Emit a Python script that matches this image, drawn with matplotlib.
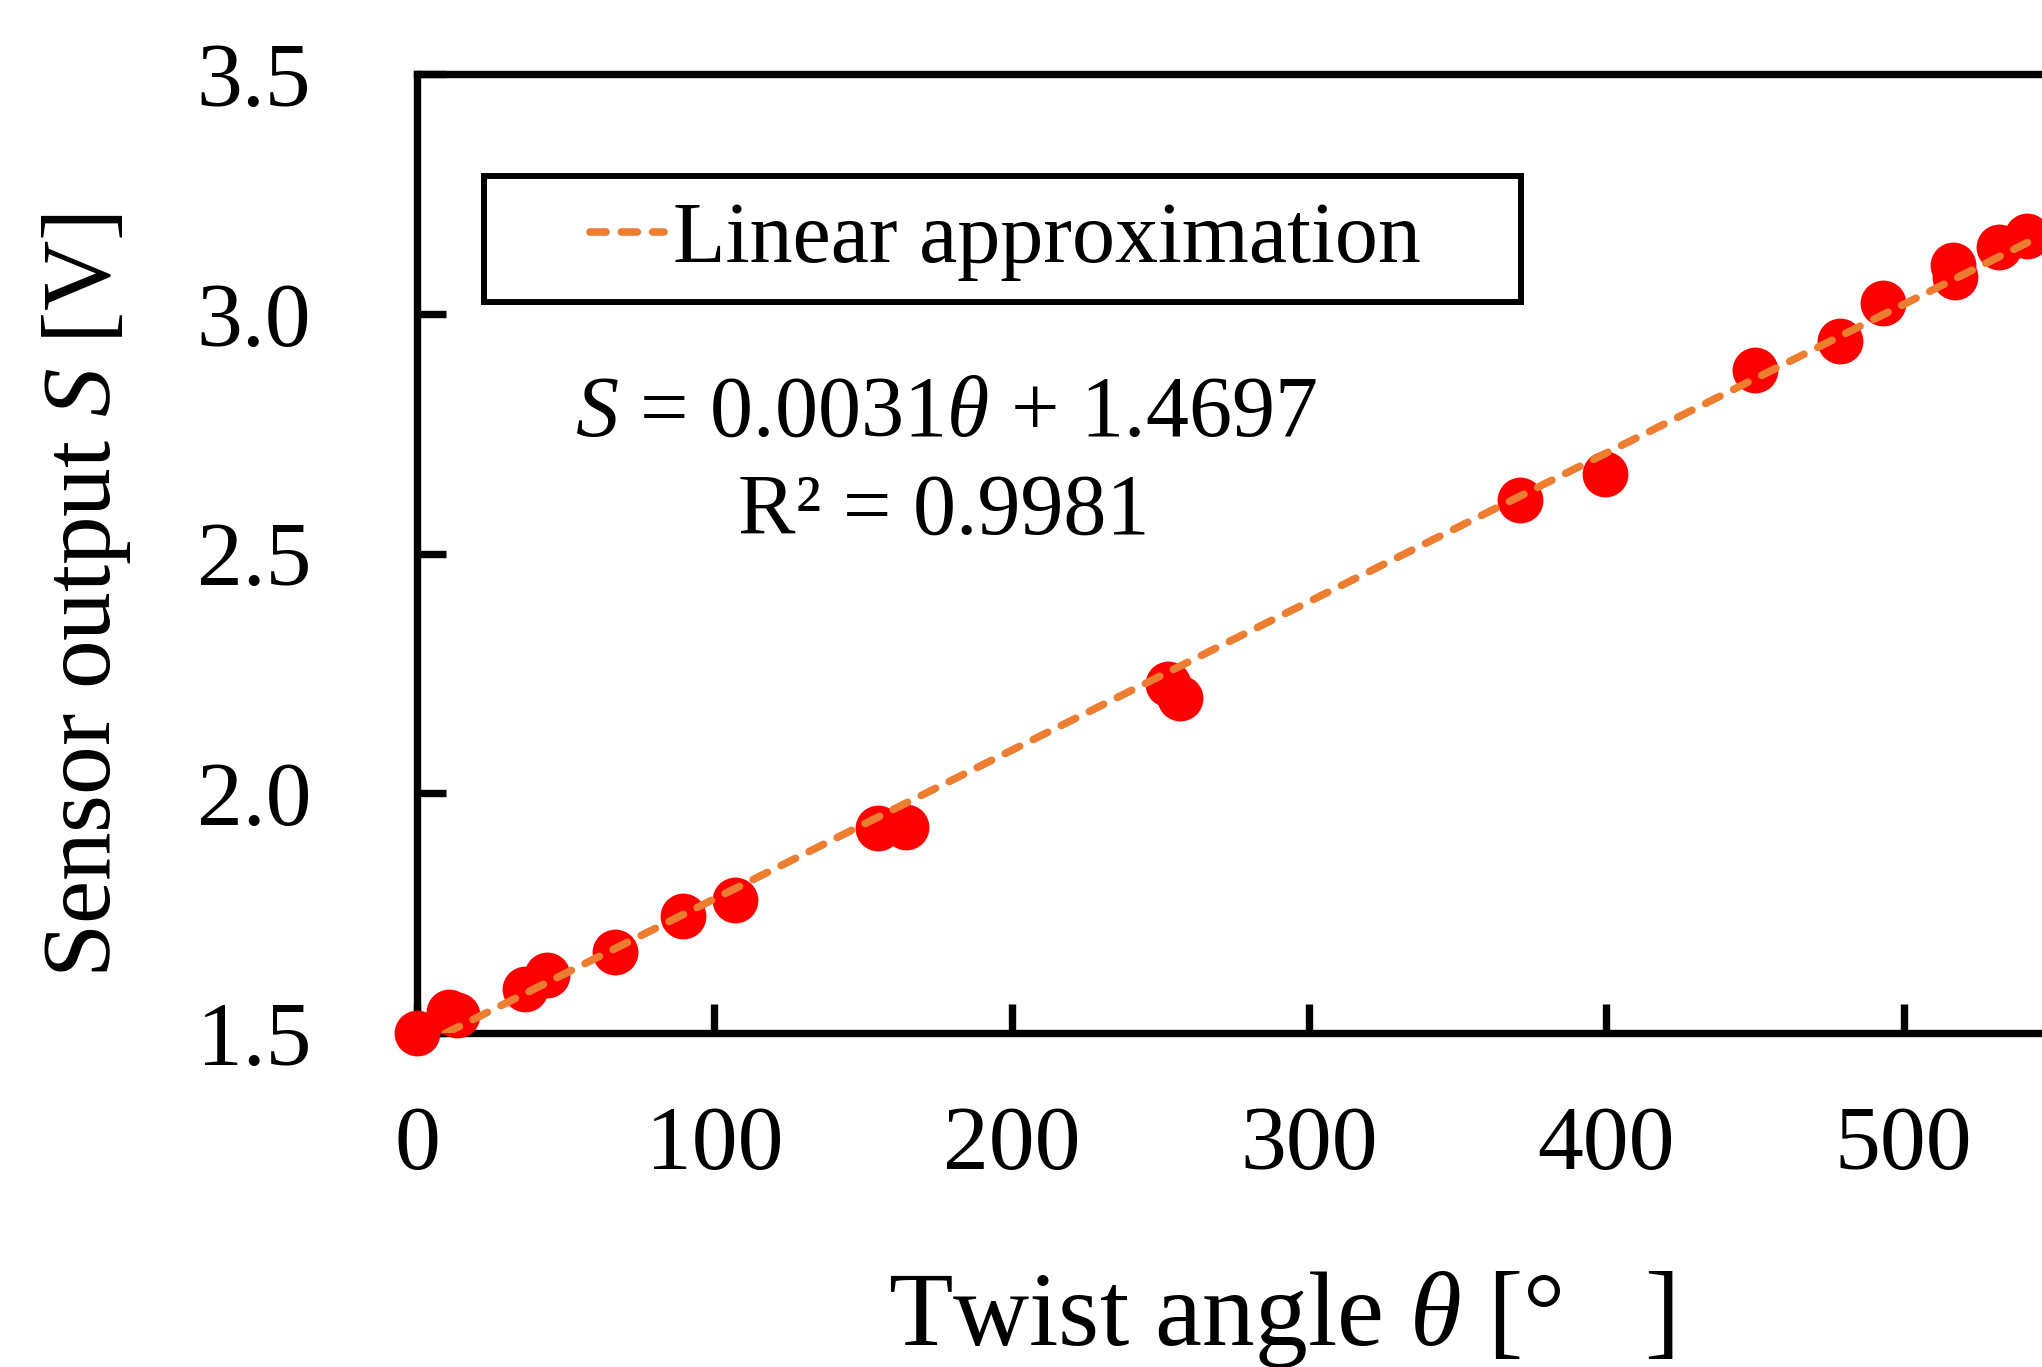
import matplotlib
matplotlib.use("Agg")
import matplotlib.pyplot as plt
from matplotlib.patches import Rectangle

# measured points: twist angle [deg] vs sensor output [V]
theta = [0, 10.9, 13.6, 36.3, 43.8, 66.5, 89.3, 106.8, 155.0, 164.6,
         252.6, 256.6, 370.8, 399.7, 450.1, 478.5, 493.0, 516.6, 517.1,
         532.0, 541.6]
output = [1.500, 1.543, 1.538, 1.592, 1.622, 1.668, 1.745, 1.777, 1.927, 1.929,
          2.228, 2.198, 2.611, 2.666, 2.883, 2.943, 3.022, 3.101, 3.076,
          3.139, 3.163]

# linear approximation (from the chart annotation)
slope = 0.0031
intercept = 1.4697
r2 = 0.9981

x_ticks = [0, 100, 200, 300, 400, 500]
y_ticks = [1.5, 2.0, 2.5, 3.0, 3.5]

plt.rcParams['font.family'] = 'Liberation Serif'
plt.rcParams['mathtext.fontset'] = 'custom'
plt.rcParams['mathtext.rm'] = 'Liberation Serif'
plt.rcParams['mathtext.it'] = 'Liberation Serif:italic'

fig = plt.figure(figsize=(20.42, 13.67), dpi=100)
ax = fig.add_axes([0.2042, 0.2443, 0.8737, 0.7015])

ax.plot(theta, output, 'o', color='#FF0000', ms=33, mew=0, clip_on=False, zorder=3)

fit_x = [0, max(theta)]
fit_y = [slope * v + intercept for v in fit_x]
line, = ax.plot(fit_x, fit_y, color='#ED7D31', lw=5.5, linestyle=(0, (2.1, 2.0)),
                dash_capstyle='round', zorder=4, label='Linear approximation')

ax.set_xlim(0, 600)
ax.set_ylim(1.5, 3.5)
ax.set_xticks(x_ticks)
ax.set_yticks(y_ticks)
ax.set_yticklabels([f"{v:.1f}" for v in y_ticks])

for s in ax.spines.values():
    s.set_linewidth(5.3)
ax.tick_params(axis='both', direction='in', length=21, width=5.3, labelsize=66)
ax.tick_params(axis='y', pad=76)
ax.tick_params(axis='x', pad=52)

fig.text(0.0426, 0.564, "Sensor output $S$ [V]", rotation=90, ha='center', va='center',
         fontsize=70)
fig.text(0.627, 0.035, "Twist angle $\\theta$ [°   ]", ha='center', va='center',
         fontsize=76)

# legend frame drawn separately so the padding matches
fig.patches.append(Rectangle((0.2370, 0.7791), 0.5078, 0.0922, transform=fig.transFigure,
                             fill=False, edgecolor='black', linewidth=4.3, zorder=5))
fig.legend(handles=[line], loc='center', bbox_to_anchor=(0.4924, 0.8232), frameon=False,
           fontsize=62, handlelength=0.86, handletextpad=0.1, borderpad=0)

fig.text(0.4633, 0.681, "$S$ = 0.0031$\\theta$ + 1.4697", ha='center', va='baseline',
         fontsize=62)
fig.text(0.4623, 0.6094, f"R² = {r2}", ha='center', va='baseline', fontsize=62)

fig.savefig("out.png", dpi=100)
